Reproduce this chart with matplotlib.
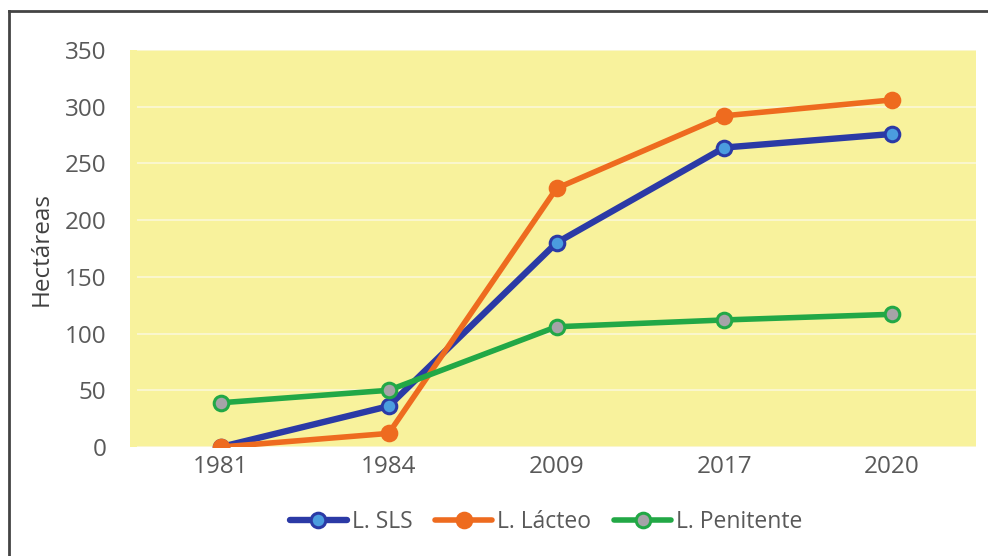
import matplotlib
matplotlib.use("Agg")
import matplotlib.pyplot as plt
from matplotlib.lines import Line2D
from matplotlib.patches import Rectangle

plt.rcParams['font.family'] = ['Open Sans', 'DejaVu Sans']

years = ["1981", "1984", "2009", "2017", "2020"]
sls = [0, 36, 180, 264, 276]
lacteo = [0, 12, 228, 292, 306]
penitente = [39, 50, 106, 112, 117]

W, H = 988, 556
fig = plt.figure(figsize=(W / 100, H / 100), dpi=100)
ax = fig.add_axes([137 / W, 1 - 447 / H, (976 - 137) / W, (447 - 50) / H])
ax.set_facecolor("#F8F29C")
# plot-area fill extends slightly past the first category band
fig.add_artist(Rectangle((130 / W, 1 - 447 / H), 8 / W, (447 - 50) / H,
                         transform=fig.transFigure, color="#F8F29C", lw=0,
                         zorder=0))

x = list(range(len(years)))
series = [
    ("L. SLS", sls, "#2B3AA6", "#4B9DDF", 4.6),
    ("L. Lácteo", lacteo, "#EE6B1F", "#EE6B1F", 4.0),
    ("L. Penitente", penitente, "#22A846", "#A6A3A8", 4.0),
]
for name, vals, col, face, lw in series:
    ax.plot(x, vals, color=col, lw=lw, marker="o", ms=10.5,
            mfc=face, mec=col, mew=2.2, label=name, zorder=3,
            solid_capstyle="round")

ax.set_xlim(-0.5, len(years) - 0.5)
ax.set_ylim(0, 350)
ax.set_yticks(range(0, 351, 50))
ax.set_xticks(x)
ax.set_xticklabels(years)
ax.yaxis.grid(True, color="#FBF8D8", lw=1.2)
ax.set_axisbelow(True)
for s in ax.spines.values():
    s.set_visible(False)
ax.tick_params(length=0, labelsize=17.5, colors="#595959")
ax.tick_params(axis="y", pad=22)
ax.tick_params(axis="x", pad=6)
ax.set_ylabel("Hectáreas", fontsize=17.5, color="#404040", labelpad=8)

leg = fig.legend(loc="center", bbox_to_anchor=(546 / W, 1 - 522 / H), ncol=3,
                 frameon=False, fontsize=16.5, handlelength=2.5,
                 columnspacing=1.0, handletextpad=0.2)
for t in leg.get_texts():
    t.set_color("#595959")

# figure border on top and left
fig.add_artist(Line2D([8.5 / W, 1], [1 - 10.5 / H, 1 - 10.5 / H],
                      transform=fig.transFigure, color="#444444", lw=2))
fig.add_artist(Line2D([8.5 / W, 8.5 / W], [0, 1 - 10.5 / H],
                      transform=fig.transFigure, color="#444444", lw=2))

fig.savefig("out.png", dpi=100)
